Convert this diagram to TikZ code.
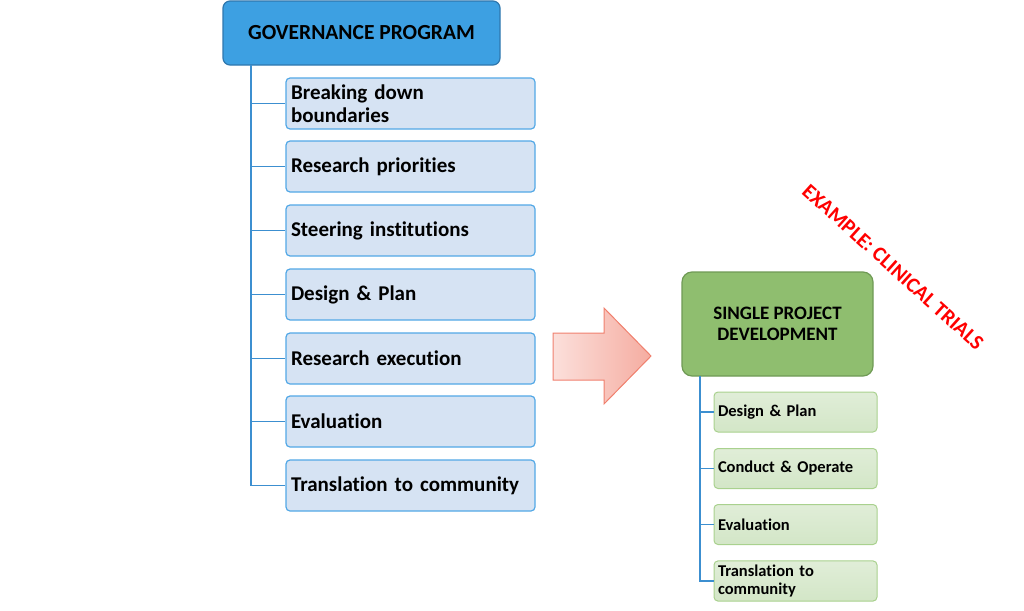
\documentclass[tikz,border=0pt]{standalone}
\usepackage{fontspec}
\setmainfont{Carlito}[RawFeature={-liga;-clig;-dlig}]
\usetikzlibrary{positioning}
\definecolor{govfill}{HTML}{3DA0E2}
\definecolor{govline}{HTML}{2F77AE}
\definecolor{itemfill}{HTML}{D6E3F3}
\definecolor{itemline}{HTML}{52A8E6}
\definecolor{connline}{HTML}{3C8FD0}
\definecolor{projfill}{HTML}{8FBE6F}
\definecolor{projline}{HTML}{6F9A55}
\definecolor{stepfill}{HTML}{D3E6C7}
\definecolor{stepline}{HTML}{A9D18E}
\definecolor{arrowline}{HTML}{F0806E}
\tikzset{govbox/.style = {draw=govline, fill=govfill, line width=1.2pt, rounded corners=7pt,
                          minimum width=277pt, minimum height=64pt,
                          font=\bfseries\fontsize{21.5}{24}\selectfont}}
\tikzset{item/.style = {draw=itemline, fill=itemfill, line width=1.2pt, rounded corners=4pt,
                        minimum width=249pt, minimum height=51pt, inner sep=5pt,
                        text width=239pt, align=left,
                        font=\bfseries\fontsize{21}{23.5}\selectfont}}
\tikzset{projbox/.style = {draw=projline, fill=projfill, line width=1.2pt, rounded corners=10pt,
                           minimum width=191pt, minimum height=104pt, align=center,
                           font=\bfseries\fontsize{19}{21}\selectfont}}
\tikzset{stepbox/.style = {draw=stepline, top color=stepfill!70!white, bottom color=stepfill,
                           line width=1pt, rounded corners=4pt,
                           minimum width=163pt, minimum height=40pt, inner sep=4pt,
                           text width=155pt, align=left,
                           font=\bfseries\fontsize{16.5}{18}\selectfont}}
\tikzset{conn/.style = {draw=connline, line width=1.8pt}}

\begin{document}
\begin{tikzpicture}[x=1pt, y=-1pt]
      \useasboundingbox (0, 0) rectangle (1024, 610);

      \node [govbox] (gov) at (361.5, 33) {GOVERNANCE PROGRAM};

      \node [item] (b1) at (410.5, 103.5) {Breaking down\\boundaries};
      \node [item] (b2) at (410.5, 166.5) {Research priorities};
      \node [item] (b3) at (410.5, 230.5) {Steering institutions};
      \node [item] (b4) at (410.5, 294.5) {Design \& Plan};
      \node [item] (b5) at (410.5, 358.5) {Research execution};
      \node [item] (b6) at (410.5, 421.5) {Evaluation};
      \node [item] (b7) at (410.5, 485.5) {Translation to community};

      \coordinate (gt) at (251, 65);
      \draw [conn] (gt) |- (b1.west);
      \draw [conn] (gt) |- (b2.west);
      \draw [conn] (gt) |- (b3.west);
      \draw [conn] (gt) |- (b4.west);
      \draw [conn] (gt) |- (b5.west);
      \draw [conn] (gt) |- (b6.west);
      \draw [conn] (gt) |- (b7.west);

      % big arrow between the two trees
      \draw [arrowline, line width=1pt, left color=arrowline!25!white, right color=arrowline!65!white]
            (553, 333) -- (604, 333) -- (604, 308) -- (651, 356)
            -- (604, 404) -- (604, 380) -- (553, 380) -- cycle;

      \node [projbox] (proj) at (777.5, 324) {SINGLE PROJECT\\DEVELOPMENT};

      \node [stepbox] (s1) at (795.5, 412) {Design \& Plan};
      \node [stepbox] (s2) at (795.5, 468.5) {Conduct \& Operate};
      \node [stepbox] (s3) at (795.5, 524.5) {Evaluation};
      \node [stepbox] (s4) at (795.5, 581) {Translation to\\community};

      \coordinate (st) at (700, 376);
      \draw [conn] (st) |- (s1.west);
      \draw [conn] (st) |- (s2.west);
      \draw [conn] (st) |- (s3.west);
      \draw [conn] (st) |- (s4.west);

      \node [red, rotate=-42, font=\bfseries\fontsize{21}{24}\selectfont] (ex) at (893, 267) {EXAMPLE: CLINICAL TRIALS};
    \end{tikzpicture}
\end{document}
